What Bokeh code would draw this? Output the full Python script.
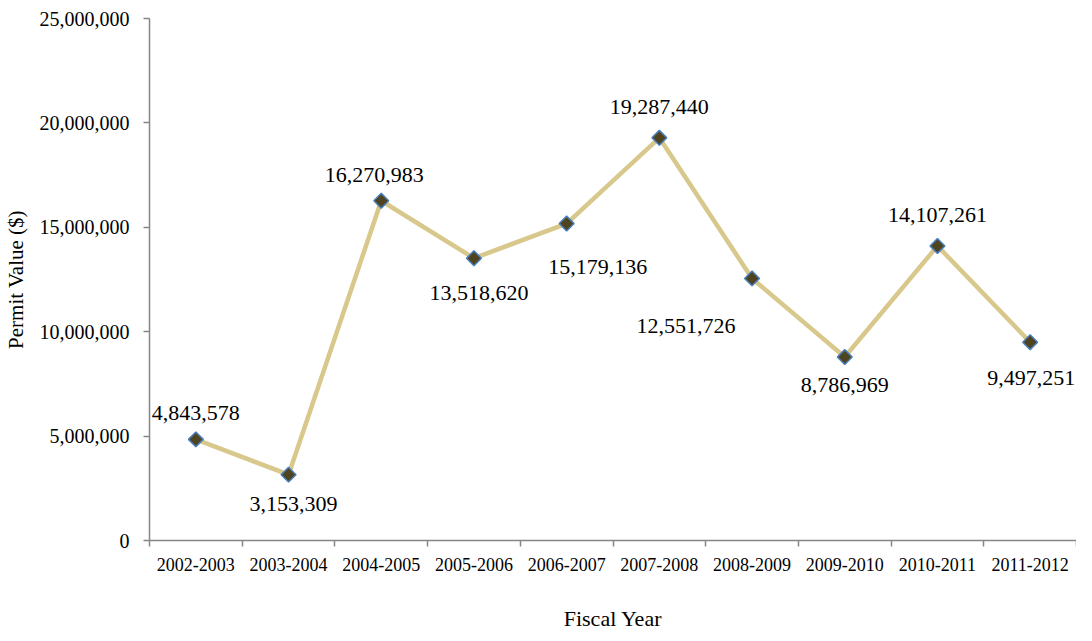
import math
from bokeh.plotting import figure
from bokeh.models import ColumnDataSource, FixedTicker, NumeralTickFormatter, Range1d
from bokeh.core.properties import value
from bokeh.embed import file_html
from bokeh.resources import INLINE

# ---- data ----
years = ["2002-2003", "2003-2004", "2004-2005", "2005-2006", "2006-2007",
         "2007-2008", "2008-2009", "2009-2010", "2010-2011", "2011-2012"]
permit_values = [4843578, 3153309, 16270983, 13518620, 15179136,
                 19287440, 12551726, 8786969, 14107261, 9497251]
y_ticks = [0, 5000000, 10000000, 15000000, 20000000, 25000000]

# label placement (pixel offsets from each point) - styling only
label_dx = [0, 5, -7, 5, 31, 0, -66, 0, 0, 1]
label_dy = [-26, 29, -26, 35, 43, -31, 48, 28, -31, 36]

FONT = "Liberation Serif"

xs = [i + 0.5 for i in range(len(years))]
src = ColumnDataSource(dict(
    x=xs, y=permit_values,
    label=[f"{v:,}" for v in permit_values],
    dx=label_dx, dy=label_dy,
))

p = figure(width=1076, height=633, output_backend="svg", toolbar_location=None,
           x_range=Range1d(0, 10), y_range=Range1d(0, 25000000),
           min_border_left=144, min_border_right=0, min_border_top=18,
           min_border_bottom=93)
p.outline_line_color = None
p.xgrid.visible = False
p.ygrid.visible = False
p.background_fill_color = "white"
p.border_fill_color = "white"

p.line("x", "y", source=src, line_color="#D8C88C", line_width=4.5)
p.scatter("x", "y", source=src, marker="square", size=10.5, angle=math.pi / 4,
          fill_color="#4E4420", line_color="#4A7EBB", line_width=1.5)
p.text("x", "y", text="label", source=src, x_offset="dx", y_offset="dy",
       text_font=value(FONT), text_font_size="22px", text_color="#000000",
       text_align="center", text_baseline="middle")

# x axis
xa = p.xaxis[0]
xa.ticker = FixedTicker(ticks=xs, minor_ticks=list(range(11)))
xa.major_label_overrides = {x: y for x, y in zip(xs, years)}
xa.major_tick_line_color = None
xa.major_tick_out = 0
xa.major_tick_in = 0
xa.minor_tick_line_color = "#868686"
xa.minor_tick_line_width = 1.5
xa.minor_tick_out = 6
xa.minor_tick_in = 0
xa.axis_line_color = "#868686"
xa.axis_line_width = 1.5
xa.major_label_text_font = FONT
xa.major_label_text_font_size = "18px"
xa.major_label_text_color = "#000000"
xa.major_label_standoff = 11
xa.axis_label = "Fiscal Year"
xa.axis_label_text_font = FONT
xa.axis_label_text_font_size = "22px"
xa.axis_label_text_font_style = "normal"
xa.axis_label_text_color = "#000000"
xa.axis_label_standoff = 32

# y axis
ya = p.yaxis[0]
ya.ticker = FixedTicker(ticks=y_ticks, minor_ticks=[])
ya.formatter = NumeralTickFormatter(format="0,0")
ya.major_tick_line_color = "#868686"
ya.major_tick_line_width = 1.5
ya.major_tick_out = 6
ya.major_tick_in = 0
ya.minor_tick_line_color = None
ya.axis_line_color = "#868686"
ya.axis_line_width = 1.5
ya.major_label_text_font = FONT
ya.major_label_text_font_size = "20px"
ya.major_label_text_color = "#000000"
ya.major_label_standoff = 14
ya.axis_label = "Permit Value ($)"
ya.axis_label_text_font = FONT
ya.axis_label_text_font_size = "21px"
ya.axis_label_text_font_style = "normal"
ya.axis_label_text_color = "#000000"
ya.axis_label_standoff = 9

open("out.html", "w").write(file_html(p, INLINE))
